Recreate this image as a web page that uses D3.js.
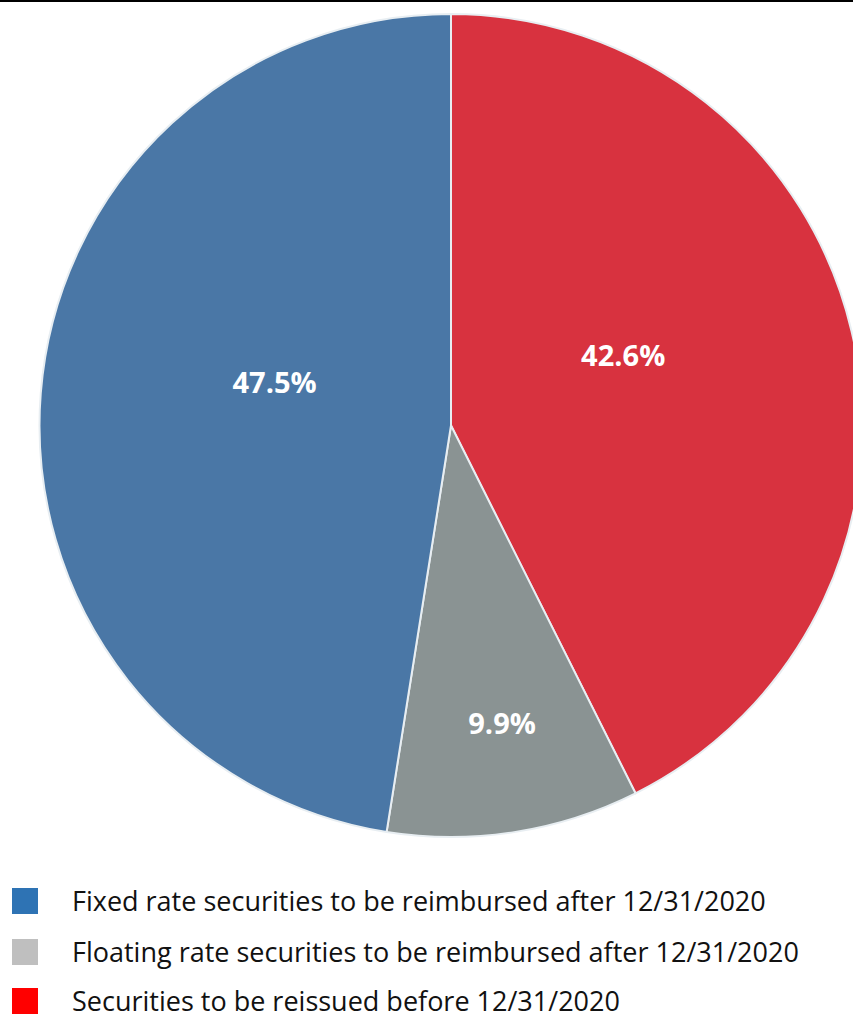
<!DOCTYPE html>
<html>
<head>
<meta charset="utf-8">
<script src="https://cdn.jsdelivr.net/npm/d3@7"></script>
<style>
  html, body { margin: 0; padding: 0; background: #fff; }
  svg { display: block; }
</style>
</head>
<body>
<svg id="chart" width="853" height="1014"></svg>
<script>
// Slice data, in drawing order (clockwise from 12 o'clock)
const categories = [
  "Securities to be reissued before 12/31/2020",
  "Floating rate securities to be reimbursed after 12/31/2020",
  "Fixed rate securities to be reimbursed after 12/31/2020"
];
const values = [42.6, 9.9, 47.5];
const sliceColors = ["#d8323f", "#8a9393", "#4a77a6"];

// Legend entries, in legend order
const legendLabels = [
  "Fixed rate securities to be reimbursed after 12/31/2020",
  "Floating rate securities to be reimbursed after 12/31/2020",
  "Securities to be reissued before 12/31/2020"
];
const legendColors = ["#2e73b4", "#bfbfbf", "#ff0000"];

const svg = d3.select("#chart");
const W = 853;

// thin rule along the top edge
svg.append("rect").attr("x", 0).attr("y", 0).attr("width", W).attr("height", 2).attr("fill", "#000");

const cx = 451, cy = 425.5, R = 411.5;
const g = svg.append("g").attr("transform", `translate(${cx},${cy})`);

const pie = d3.pie().sort(null).value(d => d);
const arcs = pie(values);
const arc = d3.arc().innerRadius(0).outerRadius(R);

g.selectAll("path.slice")
  .data(arcs)
  .enter().append("path")
  .attr("class", "slice")
  .attr("d", arc)
  .attr("fill", (d, i) => sliceColors[i])
  .attr("stroke", "#e8eef2")
  .attr("stroke-width", 2);

// value labels: small slices sit further out than the large ones
const isSmall = d => (d.endAngle - d.startAngle) < 1;
const labelRadius = d => isSmall(d) ? R * 0.73 : R * 0.43;
const labelLift = d => isSmall(d) ? 0 : -30;
g.selectAll("text.val")
  .data(arcs)
  .enter().append("text")
  .attr("class", "val")
  .attr("transform", d => {
    const a = (d.startAngle + d.endAngle) / 2;
    const r = labelRadius(d);
    return `translate(${Math.sin(a) * r + (isSmall(d) ? 5 : 0)},${-Math.cos(a) * r + labelLift(d)})`;
  })
  .attr("text-anchor", "middle")
  .attr("dominant-baseline", "central")
  .attr("font-family", "'Open Sans', sans-serif")
  .attr("font-weight", "bold")
  .attr("font-size", 29)
  .attr("fill", "#ffffff")
  .text(d => d3.format(".1f")(d.data) + "%");

// legend
const lg = svg.append("g");
const rowY = [901, 952, 1001];
legendLabels.forEach((lab, i) => {
  lg.append("rect")
    .attr("x", 12).attr("y", rowY[i] - 13)
    .attr("width", 26).attr("height", 26)
    .attr("fill", legendColors[i]);
  lg.append("text")
    .attr("x", 72).attr("y", rowY[i] - 1)
    .attr("dominant-baseline", "central")
    .attr("font-family", "'Open Sans', sans-serif")
    .attr("font-size", 27)
    .attr("fill", "#111")
    .text(lab);
});
</script>
</body>
</html>
